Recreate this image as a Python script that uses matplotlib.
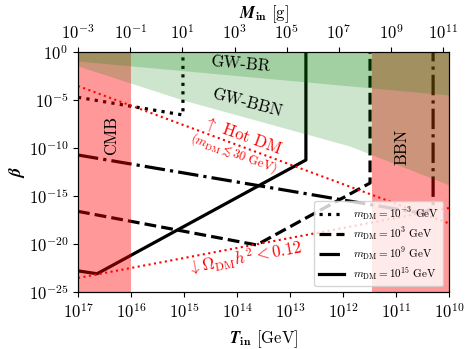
import numpy as np
import matplotlib
matplotlib.use('Agg')
import matplotlib.pyplot as plt
from matplotlib.ticker import FixedLocator, NullLocator, LogFormatterSciNotation

plt.rcParams['font.family'] = 'serif'
plt.rcParams['font.serif'] = ['cmr10']
plt.rcParams['mathtext.fontset'] = 'cm'
plt.rcParams['axes.formatter.use_mathtext'] = True

# ---- data (log10 values) ----
logT_dotted = [17.0, 15.02, 15.02]
logb_dotted = [-4.72, -6.56, 0.0]

logT_dashed = [17.0, 13.63, 11.49, 11.49]
logb_dashed = [-16.6, -20.1, -13.65, 0.0]

logT_dashdot = [17.0, 10.52, 10.30, 10.30]
logb_dashdot = [-10.73, -16.80, -16.28, 0.0]

logT_solid = [17.0, 16.64, 12.70, 12.70]
logb_solid = [-22.8, -23.1, -11.25, 0.0]

logT_hotdm = [17.0, 10.0]
logb_hotdm = [-3.54, -17.85]

logT_omega = [17.0, 10.0]
logb_omega = [-23.54, -16.25]

logT_gwbr = [17.0, 10.0]
logb_gwbr = [-0.94, -4.48]

logT_gwbbn = [17.0, 15.02, 11.87, 10.0]
logb_gwbbn = [-1.46, -5.0, -9.8, -13.85]

logT_cmb = [17.0, 16.0]
logT_bbn = [11.45, 10.0]

legend_labels = [r'$m_{\rm DM} = 10^{-3}$ GeV', r'$m_{\rm DM} = 10^{3}$ GeV',
                 r'$m_{\rm DM} = 10^{9}$ GeV', r'$m_{\rm DM} = 10^{15}$ GeV']

yticks = [1e-25, 1e-20, 1e-15, 1e-10, 1e-5, 1e0]
xticks = [1e17, 1e16, 1e15, 1e14, 1e13, 1e12, 1e11, 1e10]
mticks = [1e-3, 1e-1, 1e1, 1e3, 1e5, 1e7, 1e9, 1e11]

p = lambda a: 10.0 ** np.asarray(a)

fig = plt.figure(figsize=(4.73, 3.49), dpi=100)
ax = fig.add_axes([78/473, 1-292/349, (449-78)/473, (292-52)/349])
ax.set_xscale('log'); ax.set_yscale('log')
ax.set_xlim(1e17, 1e10)
ax.set_ylim(1e-25, 1e0)

lw = 2.3
h1, = ax.plot(p(logT_dotted), p(logb_dotted), color='k', ls=':', lw=lw, zorder=1)
h2, = ax.plot(p(logT_dashed), p(logb_dashed), color='k', ls='--', lw=lw, zorder=1)
h3, = ax.plot(p(logT_dashdot), p(logb_dashdot), color='k', ls='-.', lw=lw, zorder=1)
h4, = ax.plot(p(logT_solid), p(logb_solid), color='k', ls='-', lw=lw, zorder=1)

ax.plot(p(logT_hotdm), p(logb_hotdm), color='red', ls=':', lw=1.5, zorder=5)
ax.plot(p(logT_omega), p(logb_omega), color='red', ls=':', lw=1.5, zorder=5)

# excluded regions
ax.fill_between(p(logT_cmb), 1e-25, 1, color='red', alpha=0.4, lw=0, zorder=2)
ax.fill_between(p(logT_bbn), 1e-25, 1, color='red', alpha=0.4, lw=0, zorder=2)
ax.fill_between(p(logT_gwbbn), p(logb_gwbbn), 1, color='green', alpha=0.2, lw=0, zorder=3)
ax.fill_between(p(logT_gwbr), p(logb_gwbr), 1, color='green', alpha=0.2, lw=0, zorder=3)

ax.text(p(13.94), p(-1.25), 'GW-BR', fontsize=12, rotation=-5, ha='center', va='center', zorder=6)
ax.text(p(13.81), p(-5.31), 'GW-BBN', fontsize=12, rotation=-15, ha='center', va='center', zorder=6)
ax.text(p(16.36), p(-8.65), 'CMB', fontsize=12, rotation=90, ha='center', va='center', zorder=6)
ax.text(p(10.89), p(-9.9), 'BBN', fontsize=12, rotation=90, ha='center', va='center', zorder=6)
ax.text(p(13.90), p(-8.75), r'$\uparrow$ Hot DM', fontsize=12, color='red', rotation=-20,
        ha='center', va='center', zorder=6)
ax.text(p(14.05), p(-10.6), r'($m_{\rm DM}\lesssim 30$ GeV)', fontsize=9, color='red', rotation=-20,
        ha='center', va='center', zorder=6)
ax.text(p(13.85), p(-21.4), r'$\downarrow \Omega_{\rm DM}h^2 < 0.12$', fontsize=12, color='red',
        rotation=10.5, ha='center', va='center', zorder=6)

ax.yaxis.set_major_locator(FixedLocator(yticks))
ax.yaxis.set_major_formatter(LogFormatterSciNotation())
ax.yaxis.set_minor_locator(NullLocator())
ax.xaxis.set_major_locator(FixedLocator(xticks))
ax.xaxis.set_major_formatter(LogFormatterSciNotation())
ax.xaxis.set_minor_locator(NullLocator())
ax.tick_params(labelsize=12)

ax.set_xlabel(r'$\boldsymbol{T}_{\mathbf{in}}$ [GeV]', fontsize=12, labelpad=5)
ax.set_ylabel(r'$\boldsymbol{\beta}$', fontsize=13, rotation=90, ha='center', va='center')
ax.yaxis.set_label_coords(-0.164, 0.5)

ax2 = ax.twiny()
ax2.set_xscale('log')
ax2.set_xlim(1e-3, 10**11.22)
ax2.xaxis.set_major_locator(FixedLocator(mticks))
ax2.xaxis.set_major_formatter(LogFormatterSciNotation())
ax2.xaxis.set_minor_locator(NullLocator())
ax2.tick_params(labelsize=12)
ax2.set_xlabel(r'$\boldsymbol{M}_{\mathbf{in}}$ [g]', fontsize=12, labelpad=3)

leg = ax.legend([h1, h2, h3, h4], legend_labels, loc='lower right', fontsize=8,
                labelspacing=0.3, handlelength=2.3)
leg.set_zorder(10)

fig.savefig('out.png', dpi=100)
